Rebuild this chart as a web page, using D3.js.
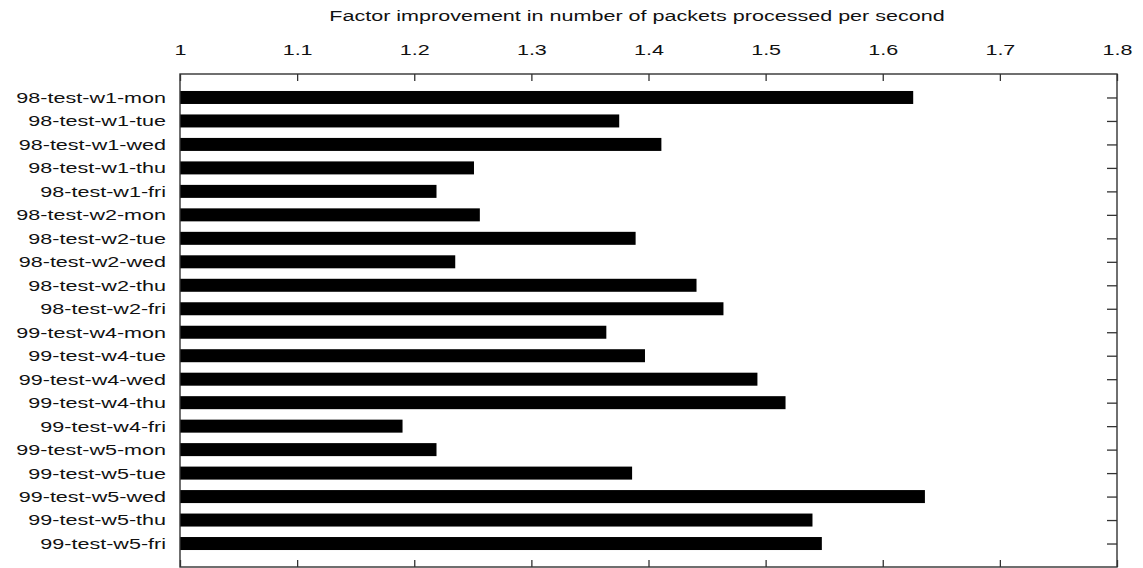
<!DOCTYPE html>
<html>
<head>
<meta charset="utf-8">
<script src="https://cdn.jsdelivr.net/npm/d3@7"></script>
<style>
  html, body { margin: 0; padding: 0; background: #fff; }
  svg { display: block; }
  text { font-family: "Liberation Sans", Arial, Helvetica, sans-serif; fill: #111; }
</style>
</head>
<body>
<svg id="chart" width="1143" height="568"></svg>
<script>
// Data sets (traces) and the speed-up factor measured for each
const categories = [
  "98-test-w1-mon", "98-test-w1-tue", "98-test-w1-wed", "98-test-w1-thu", "98-test-w1-fri",
  "98-test-w2-mon", "98-test-w2-tue", "98-test-w2-wed", "98-test-w2-thu", "98-test-w2-fri",
  "99-test-w4-mon", "99-test-w4-tue", "99-test-w4-wed", "99-test-w4-thu", "99-test-w4-fri",
  "99-test-w5-mon", "99-test-w5-tue", "99-test-w5-wed", "99-test-w5-thu", "99-test-w5-fri"
];
const improvement = [
  1.626, 1.375, 1.411, 1.251, 1.219,
  1.256, 1.389, 1.235, 1.441, 1.464,
  1.364, 1.397, 1.493, 1.517, 1.190,
  1.219, 1.386, 1.636, 1.540, 1.548
];
const xTicks = [1, 1.1, 1.2, 1.3, 1.4, 1.5, 1.6, 1.7, 1.8];
const xTitle = "Factor improvement in number of packets processed per second";

const svg = d3.select("#chart");
const plot = { left: 180, right: 1117, top: 74, bottom: 567 };
const fontSize = 15.4;
const stretch = 1.4;   // labels are set in a horizontally widened face

const x = d3.scaleLinear().domain([1, 1.8]).range([plot.left, plot.right]);
const y = d3.scalePoint().domain(categories).range([plot.top, plot.bottom]).padding(1);
const barH = 13;

function styleAxis(g) {
  g.select(".domain").remove();
  g.selectAll(".tick line").attr("stroke", "#333").attr("stroke-width", 1.3);
  g.selectAll("text")
    .attr("font-size", fontSize)
    .attr("fill", "#111")
    .attr("font-family", "Liberation Sans, Arial, Helvetica, sans-serif");
}

// Left axis with category labels (ticks sit under the bars)
const leftAxis = svg.append("g")
  .attr("transform", `translate(${plot.left},0)`)
  .call(d3.axisLeft(y).tickSize(-10).tickPadding(14));
styleAxis(leftAxis);
leftAxis.selectAll("text")
  .attr("x", -14 / stretch)
  .attr("transform", `scale(${stretch},1)`);

// Bars
svg.append("g")
  .selectAll("rect")
  .data(categories.map((c, i) => ({ c, v: improvement[i] })))
  .join("rect")
  .attr("x", x(1))
  .attr("y", d => y(d.c) - barH / 2)
  .attr("width", d => x(d.v) - x(1))
  .attr("height", barH)
  .attr("fill", "#000");

// Top axis with labels, inward ticks
const topAxis = svg.append("g")
  .attr("transform", `translate(0,${plot.top})`)
  .call(d3.axisTop(x).tickValues(xTicks).tickFormat(d3.format("")).tickSize(-7).tickPadding(19));
styleAxis(topAxis);
topAxis.selectAll("text").attr("transform", `scale(${stretch},1)`);

// Bottom axis, ticks only
const bottomAxis = svg.append("g")
  .attr("transform", `translate(0,${plot.bottom})`)
  .call(d3.axisBottom(x).tickValues(xTicks).tickFormat("").tickSize(-7));
styleAxis(bottomAxis);

// Right axis, ticks only
const rightAxis = svg.append("g")
  .attr("transform", `translate(${plot.right},0)`)
  .call(d3.axisRight(y).tickSize(-10).tickFormat(""));
styleAxis(rightAxis);

// Frame
svg.append("rect")
  .attr("x", plot.left)
  .attr("y", plot.top)
  .attr("width", plot.right - plot.left)
  .attr("height", plot.bottom - plot.top)
  .attr("fill", "none")
  .attr("stroke", "#333")
  .attr("stroke-width", 1.4);

// Axis title
svg.append("text")
  .attr("transform", `translate(637,21) scale(${stretch},1)`)
  .attr("text-anchor", "middle")
  .attr("font-size", fontSize)
  .text(xTitle);
</script>
</body>
</html>
